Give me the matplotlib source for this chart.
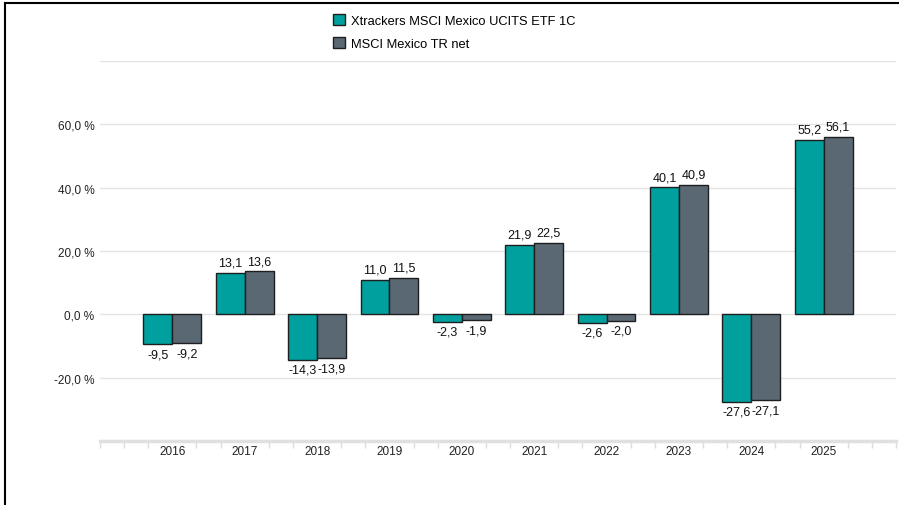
import numpy as np
import matplotlib.pyplot as plt
from matplotlib.lines import Line2D
from matplotlib.patches import Patch

years = ['2016', '2017', '2018', '2019', '2020', '2021', '2022', '2023', '2024', '2025']
fund = [-9.5, 13.1, -14.3, 11.0, -2.3, 21.9, -2.6, 40.1, -27.6, 55.2]
index = [-9.2, 13.6, -13.9, 11.5, -1.9, 22.5, -2.0, 40.9, -27.1, 56.1]
series_names = ['Xtrackers MSCI Mexico UCITS ETF 1C', 'MSCI Mexico TR net']
colors = ['#00A09F', '#5A6874']

plt.rcParams['font.family'] = ['Liberation Sans', 'DejaVu Sans']

fig = plt.figure(figsize=(8.99, 5.06), dpi=100)
ax = fig.add_axes([100 / 899, 1 - 442 / 506, 796 / 899, 380 / 506])

x = np.arange(len(years))
w = 0.4
for vals, off, c in [(fund, -w / 2, colors[0]), (index, w / 2, colors[1])]:
    bars = ax.bar(x + off, vals, w, color=c, edgecolor='#1e1e1e', linewidth=1, zorder=3)
    for b, v in zip(bars, vals):
        lbl = f'{v:.1f}'.replace('.', ',')
        va = 'bottom' if v >= 0 else 'top'
        dy = 3 if v >= 0 else -3
        ax.annotate(lbl, (b.get_x() + b.get_width() / 2, v), xytext=(0, dy),
                    textcoords='offset points', ha='center', va=va,
                    fontsize=9, color='#111111', zorder=4)

ax.set_xlim(-1, 10)
ax.set_ylim(-40, 80)
ax.set_yticks([-20, 0, 20, 40, 60, 80])
ax.set_yticklabels(['-20,0 %', '0,0 %', '20,0 %', '40,0 %', '60,0 %', ''])
ax.yaxis.grid(True, color='#e4e4e4', linewidth=1, zorder=0)
ax.tick_params(axis='y', length=0, labelsize=8.5, labelcolor='#222222', pad=4)

ax.set_xticks(x)
ax.set_xticklabels(years)
ax.tick_params(axis='x', length=0, labelsize=8.5, labelcolor='#222222', pad=3)
minor = [k / 3 for k in range(-3, 31) if k % 3 != 0 or k in (-3, 30)]
ax.set_xticks(minor, minor=True)
ax.tick_params(axis='x', which='minor', length=5, color='#dddddd', width=1)

for s in ['top', 'right', 'left']:
    ax.spines[s].set_visible(False)
ax.spines['bottom'].set_color('#e0e0e0')
ax.spines['bottom'].set_linewidth(2.5)

handles = [Patch(facecolor=c, edgecolor='#1e1e1e', linewidth=1) for c in colors]
fig.legend(handles, series_names, loc='upper left', bbox_to_anchor=(328 / 899, 1 - 10 / 506),
           frameon=False, fontsize=9.3, handlelength=0.9, handleheight=0.9,
           handletextpad=0.5, labelspacing=0.8, borderaxespad=0)

# outer frame lines (top and left)
fig.add_artist(Line2D([5 / 899, 1], [1 - 4 / 506, 1 - 4 / 506], color='black', linewidth=1.5))
fig.add_artist(Line2D([5 / 899, 5 / 899], [0, 1 - 4 / 506], color='black', linewidth=1.5))

fig.savefig('out.png', dpi=100)
